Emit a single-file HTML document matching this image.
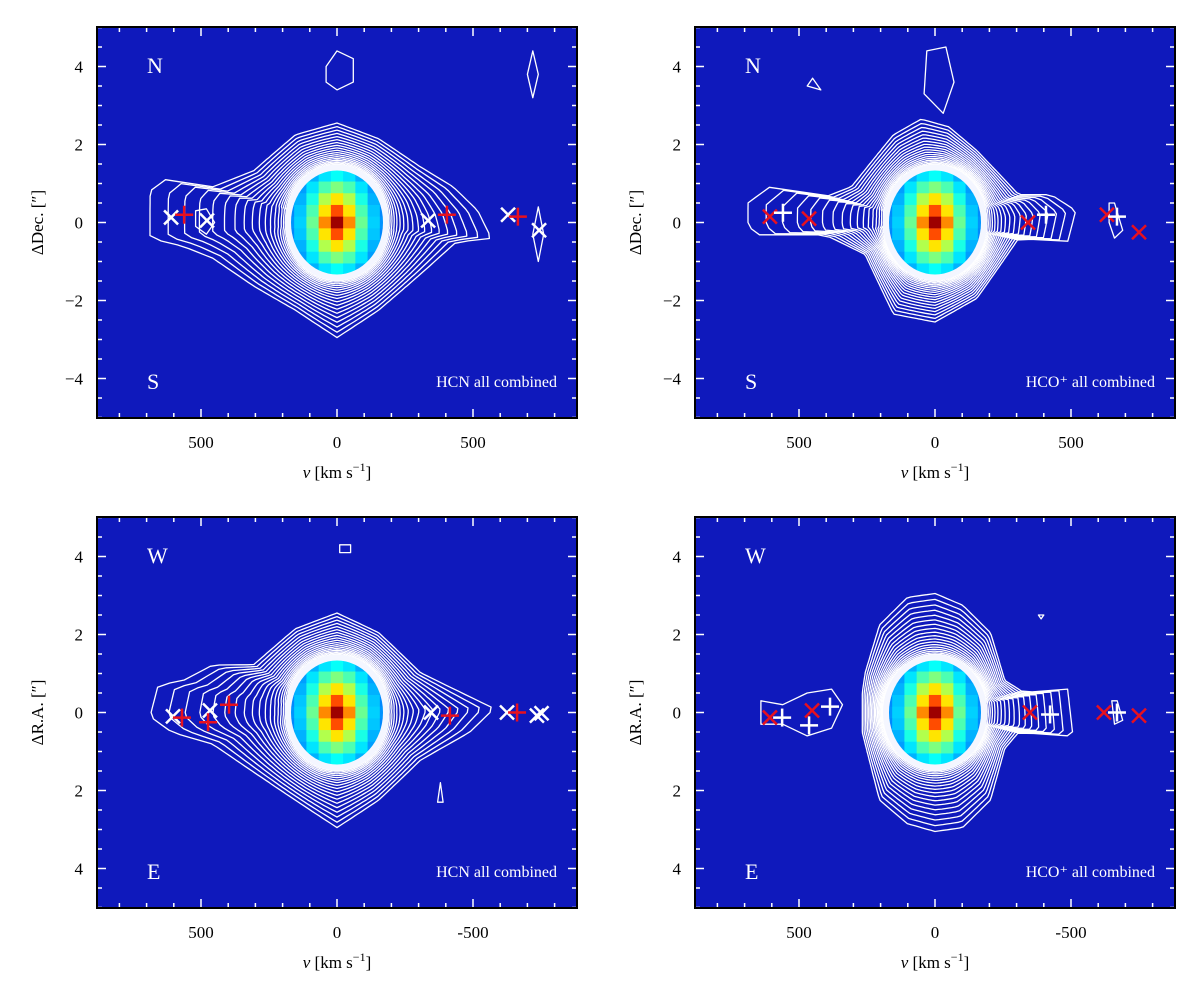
<!DOCTYPE html>
<html><head><meta charset="utf-8"><style>
body{margin:0;background:#fff;width:1200px;height:979px;overflow:hidden}
svg text{font-family:"Liberation Serif","DejaVu Serif",serif}
</style></head><body>
<svg id="fig" width="1200" height="979" xmlns="http://www.w3.org/2000/svg"></svg>
<script>
// ---------- data ----------
const xTicksTop = [500, 0, 500];
const xTicksBottom = [500, 0, -500];
const xTickVals = [500, 0, -500];
const yTickValsTop = [4, 2, 0, -2, -4];
const yTickLabelsTop = ["4", "2", "0", "\u22122", "\u22124"];
const yTickLabelsBottom = ["4", "2", "0", "2", "4"];
const blobRows = [
 [.22,.25,.3,.35,.38,.35,.3,.25,.22],
 [.24,.28,.35,.45,.5,.45,.35,.28,.24],
 [.25,.3,.4,.55,.65,.55,.4,.3,.25],
 [.26,.32,.45,.65,.8,.65,.45,.32,.26],
 [.27,.33,.48,.74,.97,.74,.48,.33,.27],
 [.26,.32,.45,.65,.8,.65,.45,.32,.26],
 [.25,.3,.4,.55,.65,.55,.4,.3,.25],
 [.24,.28,.35,.45,.5,.45,.35,.28,.24],
 [.22,.25,.3,.35,.38,.35,.3,.25,.22]
];
const outer1 = [[680,0.8],[620,1.1],[560,0.7],[450,0.9],[300,1.3],[150,2.2],[0,2.5],[-150,2.1],[-300,1.4],[-420,0.9],[-510,0.3],[-560,-0.4],[-430,-0.5],[-300,-1.3],[-150,-2.2],[0,-2.9],[150,-2.2],[300,-1.6],[450,-0.9],[560,-0.6],[680,-0.4]];
const outer2 = [[680,0.5],[600,0.9],[450,0.5],[300,0.9],[150,2.2],[50,2.6],[-50,2.4],[-150,1.8],[-300,0.7],[-420,0.7],[-510,0.3],[-480,-0.5],[-300,-0.4],[-150,-1.9],[0,-2.5],[150,-2.3],[250,-0.8],[400,-0.3],[620,-0.4],[680,-0.1]];
const outer3 = [[650,0.7],[560,0.8],[450,1.2],[300,1.2],[150,2.1],[0,2.5],[-150,2.0],[-300,1.0],[-450,0.5],[-570,0.1],[-480,-0.5],[-300,-1.2],[-150,-2.2],[0,-2.9],[150,-2.2],[300,-1.5],[450,-0.8],[600,-0.5],[680,-0.1]];
const outer4 = [[250,1.0],[200,2.2],[100,2.9],[0,3.0],[-100,2.7],[-200,2.0],[-250,0.8],[-320,0.5],[-480,0.6],[-500,-0.6],[-300,-0.5],[-250,-0.9],[-200,-2.2],[-100,-2.9],[0,-3.0],[100,-2.8],[200,-2.2],[260,-0.5],[260,0.5]];
const islands1 = [[[40,4.0],[0,4.4],[-60,4.2],[-60,3.6],[0,3.4],[40,3.6]],[[-700,3.8],[-720,4.4],[-740,3.8],[-720,3.2]],[[-740,0.4],[-760,-0.3],[-740,-1.0],[-720,-0.3]],[[520,0.3],[480,0.35],[450,0.0],[480,-0.3],[520,-0.1]]];
const islands2 = [[[30,4.4],[-40,4.5],[-70,3.6],[-30,2.8],[40,3.3]],[[450,3.7],[470,3.5],[420,3.4]],[[-640,0.5],[-660,0.5],[-690,-0.2],[-660,-0.4],[-640,0.0]]];
const islands3 = [[[-10,4.3],[-50,4.3],[-50,4.1],[-10,4.1]],[[-380,-1.8],[-390,-2.3],[-370,-2.3]]];
const islands4 = [[[640,0.3],[560,0.2],[470,0.5],[380,0.6],[340,0.2],[380,-0.4],[470,-0.6],[560,-0.3],[640,-0.3]],[[-650,0.3],[-670,0.3],[-690,-0.2],[-660,-0.3]],[[-380,2.5],[-400,2.5],[-390,2.4]]];
const markers1 = [[610,0.13,"x","w"],[562,0.2,"+","r"],[478,0.05,"x","w"],[-335,0.05,"x","w"],[-404,0.2,"+","r"],[-629,0.2,"x","w"],[-665,0.15,"+","r"],[-743,-0.2,"x","w"]];
const markers2 = [[607,0.15,"x","r"],[559,0.25,"+","w"],[463,0.1,"x","r"],[-342,0.0,"x","r"],[-408,0.2,"+","w"],[-632,0.2,"x","r"],[-669,0.15,"+","w"],[-750,-0.25,"x","r"]];
const markers3 = [[603,-0.1,"x","w"],[570,-0.13,"+","r"],[467,0.05,"x","w"],[474,-0.25,"+","r"],[397,0.2,"+","r"],[-346,0,"x","w"],[-415,-0.08,"+","r"],[-625,0,"x","w"],[-662,0,"+","r"],[-735,-0.08,"x","w"],[-752,-0.02,"x","w"]];
const markers4 = [[607,-0.13,"x","r"],[562,-0.13,"+","w"],[463,-0.33,"+","w"],[452,0.05,"x","r"],[386,0.15,"+","w"],[-349,0,"x","r"],[-423,-0.05,"+","w"],[-621,0,"x","r"],[-669,0,"+","w"],[-750,-0.08,"x","r"]];

const panels = [
 {x0:97,y0:27,outer:outer1,isl:islands1,markers:markers1,ylab:"\u0394Dec. [\u2033]",ytl:yTickLabelsTop,xtl:xTicksTop,t1:"N",t2:"S",title:"HCN all combined"},
 {x0:695,y0:27,outer:outer2,isl:islands2,markers:markers2,ylab:"\u0394Dec. [\u2033]",ytl:yTickLabelsTop,xtl:xTicksTop,t1:"N",t2:"S",title:"HCO\u207A all combined"},
 {x0:97,y0:517,outer:outer3,isl:islands3,markers:markers3,ylab:"\u0394R.A. [\u2033]",ytl:yTickLabelsBottom,xtl:xTicksBottom,t1:"W",t2:"E",title:"HCN all combined"},
 {x0:695,y0:517,outer:outer4,isl:islands4,markers:markers4,ylab:"\u0394R.A. [\u2033]",ytl:yTickLabelsBottom,xtl:xTicksBottom,t1:"W",t2:"E",title:"HCO\u207A all combined"}
];
const W=480,H=391,PXV=136/500,PXY=39,RX=46,RY=52;
const NS="http://www.w3.org/2000/svg";
const svg=document.getElementById('fig');
function mk(t,a,p){const e=document.createElementNS(NS,t);for(const k in a)e.setAttribute(k,a[k]);(p||svg).appendChild(e);return e;}
function jet(v){const r=Math.max(0,Math.min(1,1.5-Math.abs(4*v-3))),g=Math.max(0,Math.min(1,1.5-Math.abs(4*v-2))),b=Math.max(0,Math.min(1,1.5-Math.abs(4*v-1)));return `rgb(${r*255|0},${g*255|0},${b*255|0})`;}
function rayR(poly,a){const dx=Math.cos(a),dy=Math.sin(a);let best=0;
 for(let i=0;i<poly.length;i++){const [x1,y1]=poly[i],[x2,y2]=poly[(i+1)%poly.length];
  const ex=x2-x1,ey=y2-y1,den=dx*ey-dy*ex;if(Math.abs(den)<1e-9)continue;
  const t=(x1*ey-y1*ex)/den,u=(x1*dy-y1*dx)/den;if(t>0&&u>=0&&u<=1&&t>best)best=t;}
 return best;}
panels.forEach((P,pi)=>{
 const g=mk('g',{});
 
 
 const sx=v=>P.x0+W/2-v*PXV, sy=d=>P.y0+H/2-d*PXY;
 const cid='clip'+pi;
 const cp=mk('clipPath',{id:cid},g);mk('rect',{x:P.x0,y:P.y0,width:W,height:H},cp);
 const bg=mk('rect',{x:P.x0,y:P.y0,width:W,height:H,fill:'#0f19bc'},g);
 
 
 const cx=sx(0),cy=sy(0);
 const poly=P.outer.map(([v,d])=>[sx(v)-cx,sy(d)-cy]);
 const NA=180,N=24;
 const ro=[];for(let k=0;k<NA;k++)ro.push(rayR(poly,k/NA*2*Math.PI));
 const cg=mk('g',{'clip-path':`url(#${cid})`,fill:'none',stroke:'#fff','stroke-width':1.3,'stroke-linejoin':'round'},g);
 for(let i=0;i<N;i++){
  const t=i/N;
  const pts=[];
  for(let k=0;k<NA;k++){const a=k/NA*2*Math.PI;
   const ri=1/Math.sqrt(Math.pow(Math.cos(a)/RX,2)+Math.pow(Math.sin(a)/RY,2));
   const e=Math.max(0,ro[k]-ri);
   const r=ri+2+e*Math.pow(1-t,1.3+e/70);pts.push((cx+r*Math.cos(a)).toFixed(1)+','+(cy+r*Math.sin(a)).toFixed(1));}
  const c=mk('polygon',{points:pts.join(' ')},cg);
  
  
 }
 P.isl.forEach(pl=>{const c=mk('polygon',{points:pl.map(([v,d])=>sx(v).toFixed(1)+','+sy(d).toFixed(1)).join(' ')},cg);
  
  });
 const halo=mk('ellipse',{cx:cx,cy:cy,rx:RX+6,ry:RY+6,fill:'#f4f6ff'},g);
 
 
 const bc=mk('clipPath',{id:'b'+pi},g);mk('ellipse',{cx:cx,cy:cy,rx:RX,ry:RY},bc);
 const bg2=mk('g',{'clip-path':`url(#b${pi})`},g);
 blobRows.forEach((row,ri)=>row.forEach((val,ci)=>{
  const r=mk('rect',{x:sx((4-ci)*45+22.5),y:sy((4-ri)*0.3+0.15),width:45*PXV+0.5,height:0.3*PXY+0.5,fill:jet(val)},bg2);
  
  
 }));
 P.markers.forEach(([v,d,s,c])=>{
  const x=sx(v),y=sy(d),col=c==='r'?'#e8101e':'#fff',m=mk('g',{stroke:col,'stroke-width':2.5},g);
  
  
  if(s==='x'){mk('line',{x1:x-7,y1:y-7,x2:x+7,y2:y+7},m);mk('line',{x1:x-7,y1:y+7,x2:x+7,y2:y-7},m);}
  else{mk('line',{x1:x-9,y1:y,x2:x+9,y2:y},m);mk('line',{x1:x,y1:y-9,x2:x,y2:y+9},m);}
 });
 for(let v=-900;v<=900;v+=100){const x=sx(v);if(x<P.x0||x>P.x0+W)continue;const L=(v%500===0)?9:5;
  mk('line',{x1:x,y1:P.y0+H,x2:x,y2:P.y0+H-L,stroke:'#fff','stroke-width':1.5},g);mk('line',{x1:x,y1:P.y0,x2:x,y2:P.y0+L,stroke:'#fff','stroke-width':1.5},g);}
 for(let d=-5;d<=5;d+=0.5){const y=sy(d);const L=(d%2===0)?9:5;
  mk('line',{x1:P.x0,y1:y,x2:P.x0+L,y2:y,stroke:'#fff','stroke-width':1.5},g);mk('line',{x1:P.x0+W,y1:y,x2:P.x0+W-L,y2:y,stroke:'#fff','stroke-width':1.5},g);}
 const fr=mk('rect',{x:P.x0,y:P.y0,width:W,height:H,fill:'none',stroke:'#000','stroke-width':2},g);
 
 
 xTickVals.forEach((v,i)=>{const t=mk('text',{x:sx(v),y:P.y0+H+30,'font-size':17,'text-anchor':'middle'},g);t.textContent=P.xtl[i];
  
  });
 yTickValsTop.forEach((d,i)=>{const t=mk('text',{x:P.x0-14,y:sy(d)+6,'font-size':17,'text-anchor':'end'},g);t.textContent=P.ytl[i];
  
  });
 const xl=mk('text',{x:P.x0+W/2,y:P.y0+H+60,'font-size':17,'text-anchor':'middle'},g);xl.innerHTML='<tspan font-style="italic">v</tspan> [km s<tspan dy="-7" font-size="12">\u22121</tspan><tspan dy="7">]</tspan>';
 
 
 const yl=mk('text',{x:0,y:0,'font-size':17,'text-anchor':'middle',transform:`translate(${P.x0-54},${P.y0+H/2}) rotate(-90)`},g);yl.textContent=P.ylab;
 
 
 const a=mk('text',{x:P.x0+50,y:P.y0+46,'font-size':22,fill:'#fff'},g);a.textContent=P.t1;
 
 
 const b=mk('text',{x:P.x0+50,y:P.y0+362,'font-size':22,fill:'#fff'},g);b.textContent=P.t2;
 
 
 const tt=mk('text',{x:P.x0+W-20,y:P.y0+360,'font-size':16,fill:'#fff','text-anchor':'end'},g);tt.textContent=P.title;
 
 
});
</script>
</body></html>
